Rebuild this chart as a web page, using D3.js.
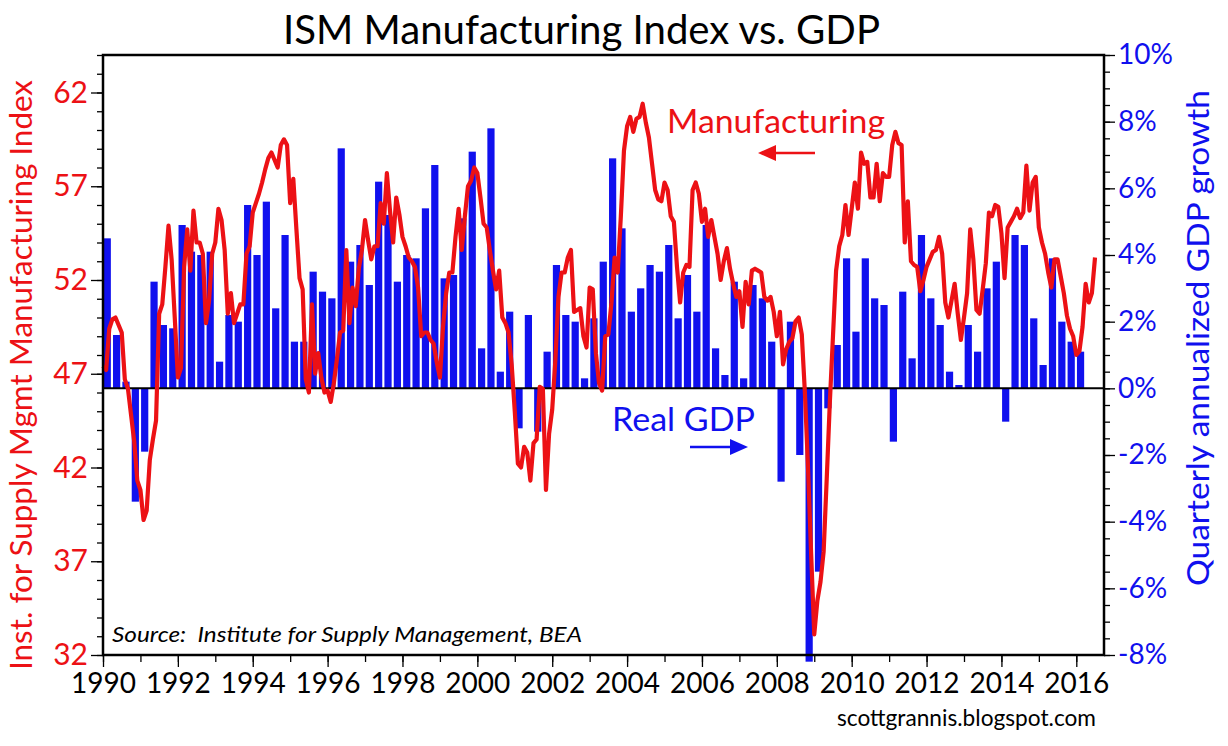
<!DOCTYPE html>
<html>
<head>
<meta charset="utf-8">
<script src="https://cdn.jsdelivr.net/npm/d3@7"></script>
<style>
  body { margin: 0; background: #fff; }
  svg text { font-family: Lato, "Noto Sans", sans-serif; }
</style>
</head>
<body>
<div id="chart"></div>
<script>
const width = 1228, height = 746;
const red = "#ec1115", blue = "#1010ee";

// ISM manufacturing index, monthly, Dec 1989 .. Jun 2016
// (each month is plotted at its end, so the first point sits on 1990)
const ismValues = [
  47.4, 47.2, 49.4, 49.9, 50.0, 49.6, 49.2, 46.7, 46.2, 44.8, 43.4, 41.3,
  40.8, 39.2, 39.7, 42.4, 43.5, 44.5, 50.2, 50.7, 52.7, 54.9, 53.1, 50.0,
  46.8, 47.3, 52.7, 54.7, 52.5, 55.7, 54.0, 54.0, 53.4, 49.7, 50.9, 53.4,
  54.0, 55.8, 55.2, 53.6, 50.2, 51.3, 49.7, 50.2, 50.7, 50.7, 53.4, 53.8,
  55.6, 56.1, 56.6, 57.2, 57.9, 58.5, 58.8, 58.4, 58.0, 59.2, 59.5, 59.2,
  56.1, 57.4, 54.7, 52.1, 51.5, 46.7, 46.0, 50.7, 47.0, 48.1, 46.8, 46.0,
  46.1, 45.5, 46.5, 47.8, 49.2, 49.3, 53.6, 49.7, 51.6, 50.6, 52.6, 53.6,
  55.2, 54.1, 53.1, 53.8, 53.8, 56.1, 55.0, 57.7, 55.7, 54.0, 56.4, 55.5,
  54.3, 53.8, 53.2, 53.0, 52.7, 51.6, 49.0, 49.2, 49.2, 48.8, 48.6, 47.6,
  46.8, 49.5, 51.3, 52.4, 52.4, 54.3, 55.8, 53.6, 55.4, 57.0, 57.3, 58.0,
  57.7, 56.4, 55.0, 54.8, 53.6, 52.5, 51.5, 52.5, 50.0, 49.7, 49.2, 47.5,
  45.0, 42.2, 42.0, 43.1, 42.8, 41.3, 43.3, 43.5, 46.3, 46.2, 40.8, 43.8,
  45.1, 47.7, 51.1, 52.4, 52.4, 53.2, 53.6, 50.3, 50.4, 50.5, 49.0, 48.4,
  51.6, 51.5, 48.1, 46.5, 46.1, 49.0, 49.1, 50.8, 53.2, 52.4, 55.4, 58.9,
  60.2, 60.7, 59.9, 60.6, 60.7, 61.4, 60.4, 59.6, 58.2, 56.8, 56.3, 56.2,
  57.2, 56.8, 55.4, 55.1, 52.7, 50.8, 52.4, 52.8, 52.7, 56.8, 57.2, 56.6,
  55.1, 55.8, 54.3, 55.2, 54.3, 53.4, 52.0, 53.0, 53.7, 52.6, 51.8, 51.1,
  51.4, 49.5, 51.9, 50.7, 52.5, 52.6, 52.5, 52.4, 51.1, 50.9, 51.1, 50.3,
  49.0, 50.3, 47.5, 48.3, 48.7, 48.9, 49.8, 50.0, 49.1, 46.0, 42.0, 37.4,
  33.1, 34.9, 35.9, 37.5, 41.4, 45.5, 49.0, 52.5, 53.8, 54.4, 56.0, 54.4,
  55.8, 57.2, 55.8, 58.8, 58.2, 58.3, 56.4, 56.4, 58.2, 56.2, 57.7, 57.5,
  57.5, 59.2, 59.9, 59.3, 59.2, 54.0, 56.2, 53.0, 52.8, 52.7, 51.4, 52.0,
  52.7, 53.1, 53.5, 53.6, 54.3, 53.4, 50.8, 50.0, 50.9, 51.8, 50.2, 48.8,
  50.0, 51.3, 54.7, 53.1, 50.4, 50.2, 51.5, 52.9, 55.6, 55.4, 56.0, 55.9,
  54.5, 52.1, 54.8, 55.1, 55.4, 55.8, 55.3, 55.6, 58.1, 55.7, 57.2, 57.5,
  54.8, 54.0, 53.4, 52.4, 51.6, 53.1, 53.1, 52.2, 51.3, 50.1, 49.4, 49.0,
  48.0, 48.2, 49.5, 51.8, 50.8, 51.3, 53.2
];

// real GDP growth, quarterly annualized %, 1990Q1 .. 2016Q1
const gdpValues = [
  4.5, 1.6, 0.2, -3.4,
  -1.9, 3.2, 1.9, 1.8,
  4.9, 4.1, 4.0, 4.1,
  0.8, 2.2, 2.0, 5.5,
  4.0, 5.6, 2.4, 4.6,
  1.4, 1.4, 3.5, 2.9,
  2.7, 7.2, 3.8, 4.3,
  3.1, 6.2, 5.2, 3.2,
  4.0, 3.9, 5.4, 6.7,
  3.3, 3.4, 5.1, 7.1,
  1.2, 7.8, 0.5, 2.3,
  -1.2, 2.2, -1.3, 1.1,
  3.7, 2.2, 2.0, 0.3,
  2.1, 3.8, 6.9, 4.8,
  2.3, 3.0, 3.7, 3.5,
  4.3, 2.1, 3.4, 2.3,
  4.9, 1.2, 0.4, 3.2,
  0.3, 3.1, 2.7, 1.4,
  -2.8, 2.0, -2.0, -8.2,
  -5.5, -0.6, 1.3, 3.9,
  1.7, 3.9, 2.7, 2.5,
  -1.6, 2.9, 0.9, 4.6,
  2.7, 1.9, 0.5, 0.1,
  1.9, 1.1, 3.0, 3.8,
  -1.0, 4.6, 4.3, 2.1,
  0.7, 3.9, 2.0, 1.4,
  1.1
];

const leftTicks = [32, 37, 42, 47, 52, 57, 62];
const rightTicks = [-8, -6, -4, -2, 0, 2, 4, 6, 8, 10];
const yearTicks = d3.range(1990, 2017, 2);

const plot = {left: 103, right: 1104, top: 55, bottom: 655};

const svg = d3.select("#chart").append("svg")
    .attr("width", width)
    .attr("height", height)
    .attr("viewBox", [0, 0, width, height]);

const x = d3.scaleLinear().domain([1990, 2016.74]).range([plot.left, plot.right]);
const yLeft = d3.scaleLinear().domain([32, 64]).range([plot.bottom, plot.top]);
const yRight = d3.scaleLinear().domain([-8, 10]).range([plot.bottom, plot.top]);

const qw = x(1990.25) - x(1990);

// GDP bars first, so the line goes on top
svg.append("g")
    .attr("fill", blue)
  .selectAll("rect")
  .data(gdpValues)
  .join("rect")
    .attr("x", (d, i) => x(1990 + i / 4) + 0.07 * qw)
    .attr("width", 0.77 * qw)
    .attr("y", d => yRight(Math.max(0, d)))
    .attr("height", d => Math.abs(yRight(d) - yRight(0)));

// zero line
svg.append("line")
    .attr("x1", plot.left).attr("x2", plot.right)
    .attr("y1", yRight(0)).attr("y2", yRight(0))
    .attr("stroke", "#000")
    .attr("stroke-width", 2);

const line = d3.line()
    .x((d, i) => x(1990 + i / 12))
    .y(d => yLeft(d));

svg.append("path")
    .datum(ismValues)
    .attr("fill", "none")
    .attr("stroke", red)
    .attr("stroke-width", 4.2)
    .attr("stroke-linejoin", "round")
    .attr("d", line);

// frame
svg.append("rect")
    .attr("x", plot.left).attr("y", plot.top)
    .attr("width", plot.right - plot.left)
    .attr("height", plot.bottom - plot.top)
    .attr("fill", "none")
    .attr("stroke", "#000")
    .attr("stroke-width", 2.5);

function styleAxis(g, color, size) {
  g.select(".domain").remove();
  g.selectAll(".tick line").attr("stroke", "#000").attr("stroke-width", 1.3);
  g.selectAll(".tick text")
      .attr("fill", color)
      .attr("font-size", size);
}

// left axis (ISM)
svg.append("g")
    .attr("transform", `translate(${plot.left},0)`)
    .call(d3.axisLeft(yLeft).tickValues(d3.range(32, 65, 1)).tickSize(6).tickFormat(""))
    .call(g => styleAxis(g, red, 30));
svg.append("g")
    .attr("transform", `translate(${plot.left},0)`)
    .call(d3.axisLeft(yLeft).tickValues(leftTicks).tickSize(12).tickPadding(3).tickFormat(d => d))
    .call(g => styleAxis(g, red, 30));

// right axis (GDP)
svg.append("g")
    .attr("transform", `translate(${plot.right},0)`)
    .call(d3.axisRight(yRight).tickValues(d3.range(-8, 10.1, 0.5)).tickSize(6).tickFormat(""))
    .call(g => styleAxis(g, blue, 28));
svg.append("g")
    .attr("transform", `translate(${plot.right},0)`)
    .call(d3.axisRight(yRight).tickValues(rightTicks).tickSize(11).tickPadding(3).tickFormat(d => d + "%"))
    .call(g => styleAxis(g, blue, 28));

// bottom axis (years)
svg.append("g")
    .attr("transform", `translate(0,${plot.bottom})`)
    .call(d3.axisBottom(x).tickValues(d3.range(1990, 2017, 1)).tickSize(7).tickFormat(""))
    .call(g => styleAxis(g, "#000", 28));
svg.append("g")
    .attr("transform", `translate(0,${plot.bottom})`)
    .call(d3.axisBottom(x).tickValues(yearTicks).tickSize(12).tickPadding(6).tickFormat(d => d))
    .call(g => styleAxis(g, "#000", 28));

// title
svg.append("text")
    .attr("x", 283).attr("y", 44)
    .attr("font-size", 40)
    .attr("textLength", 597)
    .attr("lengthAdjust", "spacingAndGlyphs")
    .text("ISM Manufacturing Index vs. GDP");

// axis titles
svg.append("text")
    .attr("transform", "translate(32,375) rotate(-90)")
    .attr("text-anchor", "middle")
    .attr("font-size", 30)
    .attr("fill", red)
    .attr("textLength", 590)
    .attr("lengthAdjust", "spacingAndGlyphs")
    .text("Inst. for Supply Mgmt Manufacturing Index");

svg.append("text")
    .attr("transform", "translate(1209,338) rotate(-90)")
    .attr("text-anchor", "middle")
    .attr("font-size", 30)
    .attr("fill", blue)
    .attr("textLength", 496)
    .attr("lengthAdjust", "spacingAndGlyphs")
    .text("Quarterly annualized GDP growth");

// annotations
svg.append("text")
    .attr("x", 667).attr("y", 133)
    .attr("font-size", 33)
    .attr("fill", red)
    .attr("textLength", 218)
    .attr("lengthAdjust", "spacingAndGlyphs")
    .text("Manufacturing");

svg.append("text")
    .attr("x", 612).attr("y", 431)
    .attr("font-size", 33)
    .attr("fill", blue)
    .attr("textLength", 143)
    .attr("lengthAdjust", "spacingAndGlyphs")
    .text("Real GDP");

function arrow(x1, x2, y, color) {
  const dir = Math.sign(x2 - x1), head = 18;
  svg.append("line")
      .attr("x1", x1).attr("x2", x2 - dir * head)
      .attr("y1", y).attr("y2", y)
      .attr("stroke", color).attr("stroke-width", 2.5);
  svg.append("path")
      .attr("d", `M${x2},${y} L${x2 - dir * head},${y - 8} L${x2 - dir * head},${y + 8} Z`)
      .attr("fill", color);
}
arrow(815, 758, 153, red);
arrow(690, 748, 447, blue);

// source and credit
svg.append("text")
    .attr("x", 112).attr("y", 642)
    .attr("font-size", 22)
    .attr("font-style", "italic")
    .attr("textLength", 470)
    .attr("lengthAdjust", "spacingAndGlyphs")
    .attr("xml:space", "preserve")
    .text("Source:  Institute for Supply Management, BEA");

svg.append("text")
    .attr("x", 837).attr("y", 726)
    .attr("font-size", 24)
    .attr("textLength", 259)
    .attr("lengthAdjust", "spacingAndGlyphs")
    .text("scottgrannis.blogspot.com");
</script>
</body>
</html>
